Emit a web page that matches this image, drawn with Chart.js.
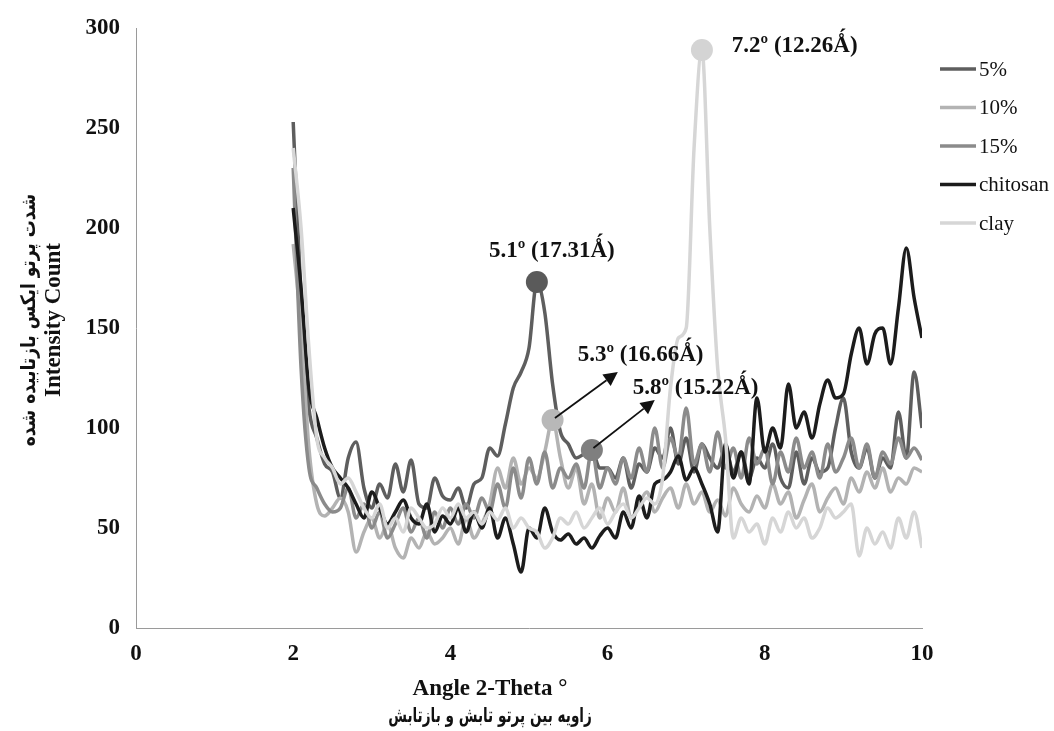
<!DOCTYPE html>
<html>
<head>
<meta charset="utf-8">
<script src="https://cdn.jsdelivr.net/npm/chart.js@4.4.1/dist/chart.umd.min.js"></script>
<style>
html,body{margin:0;padding:0;background:#fff;}
#wrap{width:1054px;height:731px;}
</style>
</head>
<body>
<div id="wrap"><canvas id="c" width="1054" height="731"></canvas></div>
<script>
// ---- Data ----
const angles = [
 2.0,2.1,2.2,2.3,2.4,2.5,2.6,2.7,2.8,2.9,
 3.0,3.1,3.2,3.3,3.4,3.5,3.6,3.7,3.8,3.9,
 4.0,4.1,4.2,4.3,4.4,4.5,4.6,4.7,4.8,4.9,
 5.0,5.1,5.2,5.3,5.4,5.5,5.6,5.7,5.8,5.9,
 6.0,6.1,6.2,6.3,6.4,6.5,6.6,6.7,6.8,6.9,
 7.0,7.1,7.2,7.3,7.4,7.5,7.6,7.7,7.8,7.9,
 8.0,8.1,8.2,8.3,8.4,8.5,8.6,8.7,8.8,8.9,
 9.0,9.1,9.2,9.3,9.4,9.5,9.6,9.7,9.8,9.9,
 10.0];

const seriesNames = ['5%', '10%', '15%', 'chitosan', 'clay'];

const s5 = [
 253,165,110,95,82,78,65,85,93,70,
 60,72,65,82,68,84,62,60,75,66,
 64,70,60,72,75,90,86,102,120,128,
 140,173,158,122,98,92,85,87,89,80,
 80,75,85,70,82,78,90,85,100,82,
 95,78,92,85,80,90,78,88,75,85,
 80,92,75,70,88,72,85,78,80,100,
 115,88,80,90,75,85,80,108,85,128,
 100];

const s10 = [
 192,150,90,62,56,60,65,58,38,48,
 55,45,52,40,35,45,40,48,42,45,
 50,42,55,45,52,62,80,70,85,72,
 80,75,88,104,85,70,80,62,72,55,
 65,58,70,55,62,68,58,65,70,60,
 72,62,68,58,64,56,70,62,58,66,
 60,72,62,68,55,64,72,58,65,70,
 62,75,68,78,70,80,68,75,72,80,
 78];

const s15 = [
 230,130,80,70,62,58,60,70,55,62,
 50,58,45,52,60,48,55,45,58,50,
 60,52,62,55,65,58,72,60,80,65,
 85,72,88,70,80,75,82,70,89,70,
 80,72,85,75,90,78,100,80,95,85,
 110,82,92,78,98,80,90,75,95,82,
 90,72,88,78,95,80,88,75,92,78,
 85,95,80,92,75,88,82,95,85,90,
 84];

const sChitosan = [
 210,170,120,105,90,80,75,70,62,55,
 68,60,52,58,64,55,52,62,48,56,
 52,60,48,58,50,60,45,55,42,28,
 50,45,60,48,44,47,42,45,40,46,
 50,45,58,50,66,55,72,74,78,86,
 74,80,72,62,48,92,75,88,72,115,
 88,100,90,122,100,108,95,112,124,115,
 117,137,150,132,147,150,132,160,190,165,
 145];

const sClay = [
 240,200,140,95,85,80,72,75,68,60,
 55,62,50,55,48,60,55,50,52,60,
 55,62,55,58,52,58,54,60,50,55,
 50,48,40,45,55,52,58,50,55,60,
 52,58,62,55,60,65,62,75,120,145,
 150,240,289,200,130,95,45,55,48,52,
 42,55,48,58,50,55,45,50,60,55,
 58,62,36,50,42,48,40,55,45,58,
 40];

// peak markers: angle of the marked point for each series (null = none)
const peakAngles = [5.1, 5.3, 5.8, null, 7.2];

const peakLabels = ['5.1º (17.31Ǻ)', '5.3º (16.66Ǻ)', '5.8º (15.22Ǻ)', '7.2º (12.26Ǻ)'];
const peakLabelAnchor = [[5.29, 188.5], [5.62, 136.5], [6.32, 120], [7.58, 291]];
const peakLabelAlign = ['center', 'left', 'left', 'left'];
// arrows: from (angle,intensity) to (angle,intensity)
const arrowFrom = [[5.33, 105], [5.82, 90]];
const arrowTo = [[6.13, 128], [6.6, 114]];

const xTicks = [0, 2, 4, 6, 8, 10];
const yTicks = [0, 50, 100, 150, 200, 250, 300];

const xTitle = ['Angle 2-Theta °', 'زاویه بین پرتو تابش و بازتابش'];
const yTitle = ['شدت پرتو ایکس بازتابیده شده', 'Intensity Count'];

// ---- Styling ----
const lineColors = ['#5e5e5e', '#b3b3b3', '#8b8b8b', '#1c1c1c', '#d6d6d6'];
const markerColors = ['#5a5a5a', '#b8b8b8', '#7f7f7f', '#1c1c1c', '#d4d4d4'];
const serif = "'Liberation Serif', 'Times New Roman', 'DejaVu Serif', serif";
const persianFont = "'DejaVu Sans', 'Noto Sans', sans-serif";

const allSeries = [s5, s10, s15, sChitosan, sClay];

const datasets = allSeries.map((vals, k) => ({
  label: seriesNames[k],
  data: angles.map((a, i) => ({x: a, y: vals[i]})),
  borderColor: lineColors[k],
  backgroundColor: markerColors[k],
  borderWidth: 3.5,
  cubicInterpolationMode: 'monotone',
  pointRadius: (ctx) => (peakAngles[k] !== null && ctx.raw && Math.abs(ctx.raw.x - peakAngles[k]) < 1e-6) ? 11 : 0,
  pointBorderWidth: 0,
  pointBackgroundColor: markerColors[k],
  pointHoverRadius: 0,
  order: 4 - k,
  fill: false
}));

function drawCondensed(ctx, text, x, y, sx) {
  ctx.save();
  ctx.translate(x, y);
  ctx.scale(sx, 1);
  ctx.fillText(text, 0, 0);
  ctx.restore();
}

const decorPlugin = {
  id: 'decor',
  afterDatasetsDraw(chart) {
    const ctx = chart.ctx;
    const xs = chart.scales.x, ys = chart.scales.y;
    const area = chart.chartArea;
    ctx.save();
    // peak labels
    ctx.fillStyle = '#111';
    ctx.font = "bold 23px " + serif;
    ctx.textBaseline = 'middle';
    peakLabels.forEach((t, i) => {
      ctx.textAlign = peakLabelAlign[i];
      ctx.fillText(t, xs.getPixelForValue(peakLabelAnchor[i][0]), ys.getPixelForValue(peakLabelAnchor[i][1]));
    });
    // arrows
    ctx.strokeStyle = '#111';
    ctx.fillStyle = '#111';
    ctx.lineWidth = 1.8;
    arrowFrom.forEach((f, i) => {
      const x1 = xs.getPixelForValue(f[0]), y1 = ys.getPixelForValue(f[1]);
      const x2 = xs.getPixelForValue(arrowTo[i][0]), y2 = ys.getPixelForValue(arrowTo[i][1]);
      const ang = Math.atan2(y2 - y1, x2 - x1);
      const hl = 14, hw = 7;
      const bx = x2 - hl * Math.cos(ang), by = y2 - hl * Math.sin(ang);
      ctx.beginPath(); ctx.moveTo(x1, y1); ctx.lineTo(bx, by); ctx.stroke();
      ctx.beginPath();
      ctx.moveTo(x2, y2);
      ctx.lineTo(bx + hw * Math.sin(ang), by - hw * Math.cos(ang));
      ctx.lineTo(bx - hw * Math.sin(ang), by + hw * Math.cos(ang));
      ctx.closePath(); ctx.fill();
    });
    // legend
    ctx.font = "21px " + serif;
    ctx.textAlign = 'left';
    ctx.textBaseline = 'middle';
    seriesNames.forEach((n, k) => {
      const y = 69 + k * 38.5;
      ctx.strokeStyle = lineColors[k];
      ctx.lineWidth = 3.5;
      ctx.beginPath(); ctx.moveTo(940, y); ctx.lineTo(976, y); ctx.stroke();
      ctx.fillStyle = '#111';
      ctx.fillText(n, 979, y + 1);
    });
    // axis titles
    ctx.fillStyle = '#111';
    ctx.textAlign = 'center';
    ctx.textBaseline = 'middle';
    const cx = 490;
    ctx.font = "bold 23px " + serif;
    ctx.fillText(xTitle[0], cx, 689);
    ctx.font = "bold 20px " + persianFont;
    drawCondensed(ctx, xTitle[1], cx, 717, 0.68);
    const cy = (area.top + area.bottom) / 2 - 8;
    ctx.save();
    ctx.translate(30, cy);
    ctx.rotate(-Math.PI / 2);
    ctx.font = "bold 20px " + persianFont;
    drawCondensed(ctx, yTitle[0], 0, 0, 0.85);
    ctx.restore();
    ctx.save();
    ctx.translate(54, cy);
    ctx.rotate(-Math.PI / 2);
    ctx.font = "bold 23px " + serif;
    ctx.fillText(yTitle[1], 0, 0);
    ctx.restore();
    ctx.restore();
  }
};

new Chart(document.getElementById('c'), {
  type: 'line',
  data: { datasets },
  options: {
    responsive: false,
    animation: false,
    events: [],
    layout: { padding: { left: 0, right: 132, top: 28, bottom: 0 } },
    plugins: { legend: { display: false }, tooltip: { enabled: false } },
    scales: {
      x: {
        type: 'linear', min: 0, max: 10,
        afterBuildTicks: (s) => { s.ticks = xTicks.map(v => ({value: v})); },
        afterFit: (s) => { s.height = 103; },
        grid: { display: false, drawOnChartArea: false, drawTicks: true, tickLength: 6, color: '#9a9a9a' },
        border: { color: '#9a9a9a', width: 1 },
        ticks: { color: '#111', font: { family: serif, size: 23, weight: 'bold' }, padding: 6, maxRotation: 0 },
        title: { display: false }
      },
      y: {
        type: 'linear', min: 0, max: 300,
        afterBuildTicks: (s) => { s.ticks = yTicks.map(v => ({value: v})); },
        afterFit: (s) => { s.width = 136; },
        grid: { display: false, drawOnChartArea: false, drawTicks: true, tickLength: 6, color: '#9a9a9a' },
        border: { color: '#9a9a9a', width: 1 },
        ticks: { color: '#111', font: { family: serif, size: 23, weight: 'bold' }, padding: 10 },
        title: { display: false }
      }
    }
  },
  plugins: [decorPlugin]
});
</script>
</body>
</html>
